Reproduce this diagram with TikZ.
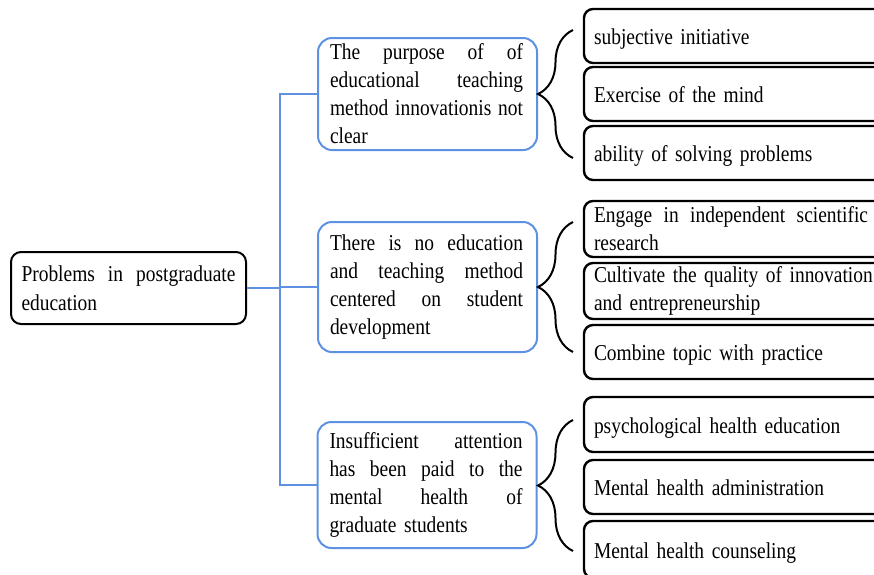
\documentclass[tikz,border=0pt]{standalone}
\usepackage{fontspec}
\setmainfont{Liberation Serif}[FakeStretch=0.857, WordSpace=0.85]
\usetikzlibrary{decorations.pathreplacing}
\definecolor{linkblue}{RGB}{94,145,226}
\begin{document}
\begin{tikzpicture}[x=1pt,y=-1pt,
 txt/.style={font=\fontsize{22.7}{28}\selectfont, align=left, inner sep=0pt},
 rootbox/.style={txt, draw=black, line width=2pt, rounded corners=10pt, minimum width=235pt, minimum height=72pt, text width=214pt, font=\fontsize{22.7}{29.5}\selectfont},
 midbox/.style={txt, draw=linkblue, line width=2pt, rounded corners=14pt, minimum width=219pt, text width=195pt},
 leafbox/.style={txt, draw=black, line width=2.4pt, rounded corners=9pt, minimum width=304pt, text width=284pt},
 oneline/.style={text height=17pt, text depth=0pt},
 link/.style={draw=linkblue, line width=2pt},
 bracket/.style={draw=black, line width=2pt, decorate, decoration={brace, amplitude=35pt}}]
\useasboundingbox (0,0) rectangle (874,574);
\clip (0,0) rectangle (874,574);

% root
\node[rootbox] (root) at (128.5,288) {\makebox[214pt]{Problems\hfill in\hfill postgraduate}\\education};

% middle boxes
\node[midbox, minimum height=112pt] (m1) at (427.5,94)
 {\makebox[193pt]{The\hfill purpose\hfill of\hfill of}\\\makebox[193pt]{educational\hfill teaching}\\\makebox[193pt]{method\hfill innovationis\hfill not}\\clear};
\node[midbox, minimum height=130pt] (m2) at (427.5,287)
 {\makebox[193pt]{There\hfill is\hfill no\hfill education}\\\makebox[193pt]{and\hfill teaching\hfill method}\\\makebox[193pt]{centered\hfill on\hfill student}\\development};
\node[midbox, minimum height=126pt] (m3) at (427,485)
 {\makebox[193pt]{Insufficient\hfill attention}\\\makebox[193pt]{has\hfill been\hfill paid\hfill to\hfill the}\\\makebox[193pt]{mental\hfill health\hfill of}\\graduate students};

% leaf boxes
\node[leafbox, oneline, minimum height=54pt] (r1a) at (736,36) {subjective initiative};
\node[leafbox, oneline, minimum height=54pt] (r1b) at (736,94) {Exercise of the mind};
\node[leafbox, oneline, minimum height=54pt] (r1c) at (736,153) {ability of solving problems};
\node[leafbox, minimum height=56pt] (r2a) at (736,229) {\makebox[274pt]{Engage\hfill in\hfill independent\hfill scientific}\\research};
\node[leafbox, minimum height=56pt] (r2b) at (736,291) {Cultivate the quality of innovation\\and entrepreneurship};
\node[leafbox, oneline, minimum height=54pt] (r2c) at (736,352) {Combine topic with practice};
\node[leafbox, oneline, minimum height=55pt] (r3a) at (736,424.5) {psychological health education};
\node[leafbox, oneline, minimum height=54pt] (r3b) at (736,487) {Mental health administration};
\node[leafbox, oneline, minimum height=57pt] (r3c) at (736,549.5) {Mental health counseling};

% blue connectors
\coordinate (j) at (280,287);
\draw[link] (root.east) -- (root.east -| j);
\draw[link] (m2.west) -- (m2.west -| j);
\draw[link] (m1.west) -- (m1.west -| j) -- (m3.west -| j) -- (m3.west);

% braces
\coordinate (b1t) at (573,30);
\coordinate (b1b) at (573,158);
\coordinate (b2t) at (573,222);
\coordinate (b2b) at (573,352);
\coordinate (b3t) at (573,420);
\coordinate (b3b) at (573,551);
\draw[bracket] (b1b) -- (b1t);
\draw[bracket] (b2b) -- (b2t);
\draw[bracket] (b3b) -- (b3t);
\end{tikzpicture}
\end{document}
